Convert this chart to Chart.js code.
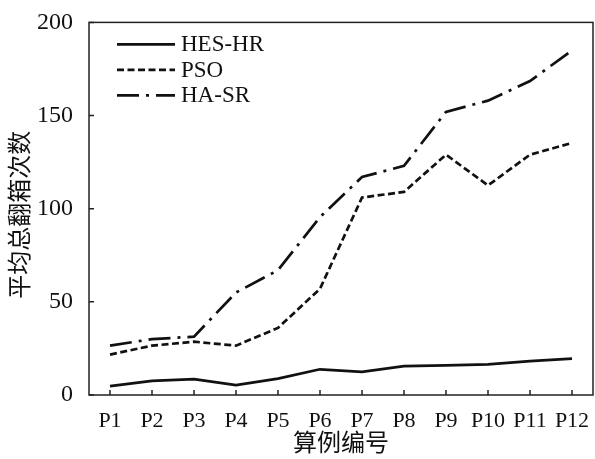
<!DOCTYPE html>
<html>
<head>
<meta charset="utf-8">
<script src="https://cdn.jsdelivr.net/npm/chart.js@4/dist/chart.umd.min.js"></script>
<style>
  html, body { margin: 0; padding: 0; background: #fff; }
  canvas { display: block; }
</style>
</head>
<body>
<canvas id="myChart" width="595" height="459"></canvas>
<script>
const labels = ['P1', 'P2', 'P3', 'P4', 'P5', 'P6', 'P7', 'P8', 'P9', 'P10', 'P11', 'P12'];
const hesHr = [4.8, 7.6, 8.5, 5.3, 8.8, 13.8, 12.4, 15.5, 15.9, 16.4, 18.2, 19.5];
const pso = [21.7, 26.5, 28.6, 26.5, 36, 57, 106, 109, 129, 112.5, 129, 135.3];
const haSr = [26.5, 30, 31.3, 55, 67, 95.5, 117, 123, 152, 158, 168.5, 185];
const yTicks = [0, 50, 100, 150, 200];
const yTitle = '平均总翻箱次数';
const xTitle = '算例编号';

const FONT = "'Liberation Serif', 'Noto Sans CJK SC', serif";
const INK = '#111';

// frame + inward ticks + y title
const framePlugin = {
  id: 'frame',
  afterDraw(chart) {
    const ctx = chart.ctx;
    const a = chart.chartArea;
    const xs = chart.scales.x;
    const ys = chart.scales.y;
    ctx.save();
    ctx.strokeStyle = '#222';
    ctx.lineWidth = 1.5;
    ctx.strokeRect(a.left, a.top, a.right - a.left, a.bottom - a.top);
    ctx.beginPath();
    for (let i = 0; i < labels.length; i++) {
      const x = xs.getPixelForTick(i);
      ctx.moveTo(x, a.bottom);
      ctx.lineTo(x, a.bottom - 5);
    }
    yTicks.forEach(v => {
      const y = ys.getPixelForValue(v);
      ctx.moveTo(a.left, y);
      ctx.lineTo(a.left + 5, y);
    });
    ctx.stroke();

    // y title, a bit below the middle like the original
    ctx.translate(22, (a.top + a.bottom) / 2 + 6);
    ctx.rotate(-Math.PI / 2);
    ctx.font = '24px ' + FONT;
    ctx.fillStyle = INK;
    ctx.textAlign = 'center';
    ctx.textBaseline = 'middle';
    ctx.fillText(yTitle, 0, 0);
    ctx.restore();
  }
};

// legend inside plot, top-left
const innerLegend = {
  id: 'innerLegend',
  afterDraw(chart) {
    const ctx = chart.ctx;
    const a = chart.chartArea;
    ctx.save();
    ctx.font = '23px ' + FONT;
    ctx.textBaseline = 'middle';
    chart.data.datasets.forEach((ds, i) => {
      const y = a.top + 22 + i * 25.5;
      const x0 = a.left + 28;
      ctx.strokeStyle = ds.borderColor;
      ctx.lineWidth = ds.borderWidth;
      ctx.setLineDash(ds.borderDash || []);
      ctx.beginPath();
      ctx.moveTo(x0, y);
      ctx.lineTo(x0 + 58, y);
      ctx.stroke();
      ctx.setLineDash([]);
      ctx.fillStyle = INK;
      ctx.fillText(ds.label, x0 + 64, y + 1);
    });
    ctx.restore();
  }
};

const data = {
  labels: labels,
  datasets: [
    {
      label: 'HES-HR',
      data: hesHr,
      borderColor: INK,
      borderWidth: 2.7,
      borderDash: [],
      pointRadius: 0,
      tension: 0,
      fill: false,
    },
    {
      label: 'PSO',
      data: pso,
      borderColor: INK,
      borderWidth: 2.7,
      borderDash: [7, 3.5],
      pointRadius: 0,
      tension: 0,
      fill: false,
    },
    {
      label: 'HA-SR',
      data: haSr,
      borderColor: INK,
      borderWidth: 2.7,
      borderDash: [22, 7, 3, 7],
      pointRadius: 0,
      tension: 0,
      fill: false,
    },
  ],
};

// CONFIG
const config = {
  type: 'line',
  data,
  options: {
    responsive: false,
    devicePixelRatio: 1,
    animation: false,
    layout: { padding: { top: 18, right: 2, left: 0, bottom: 0 } },
    plugins: {
      legend: { display: false },
      tooltip: { enabled: false },
    },
    scales: {
      x: {
        offset: true,
        grid: { display: false },
        border: { display: false },
        ticks: {
          color: INK,
          font: { family: FONT, size: 22 },
          padding: 5,
          maxRotation: 0,
          autoSkip: false,
        },
        title: {
          display: true,
          text: xTitle,
          color: INK,
          font: { family: FONT, size: 24 },
          padding: { top: 0, bottom: 0 },
        },
        afterFit(scale) { scale.height = 64; },
      },
      y: {
        min: 0,
        max: 200,
        grid: { display: false },
        border: { display: false },
        afterBuildTicks(scale) { scale.ticks = yTicks.map(v => ({ value: v })); },
        ticks: {
          color: INK,
          font: { family: FONT, size: 24 },
          padding: 8,
        },
        afterFit(scale) { scale.width = 89; },
      },
    },
  },
  plugins: [framePlugin, innerLegend],
};

// RENDER
const myChart = new Chart(document.getElementById('myChart'), config);
</script>
</body>
</html>
